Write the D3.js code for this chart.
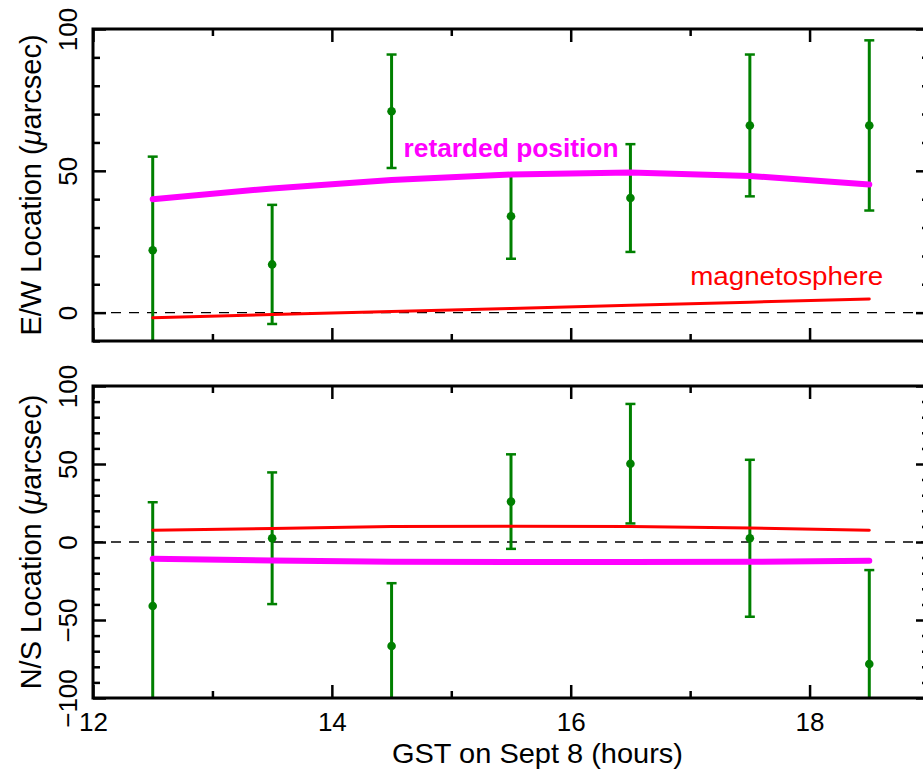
<!DOCTYPE html>
<html>
<head>
<meta charset="utf-8">
<script src="https://cdn.jsdelivr.net/npm/d3@7"></script>
<style>
  html, body { margin: 0; padding: 0; background: #fff; }
  svg { display: block; }
  text { font-family: "Liberation Sans", Arial, sans-serif; fill: #000; }
</style>
</head>
<body>
<svg id="chart" width="923" height="774"></svg>
<script>
// ---------- data ----------
const hours = [12.5, 13.5, 14.5, 15.5, 16.5, 17.5, 18.5];

// E/W (top panel)
const ewObs = [22, 17, 71, 34, 40.4, 66, 66];
const ewErr = [33, 21, 20, 15, 19, 25, 30];
const ewRetarded = [40.0, 43.8, 46.8, 48.7, 49.4, 48.2, 45.2];
const ewMagneto = [-1.8, -0.7, 0.4, 1.5, 2.6, 3.7, 4.8];

// N/S (bottom panel)
const nsObs = [-41, 2.4, -66.7, 25.9, 50.2, 2.4, -78.2];
const nsErr = [66.5, 42.2, 40.3, 30.3, 38.3, 50.3, 60.2];
const nsRetarded = [-10.8, -11.8, -12.6, -12.9, -12.9, -12.7, -12.0];
const nsMagneto = [7.5, 8.6, 9.9, 10.1, 10.0, 9.0, 7.6];

// axes
const xDomain = [12, 19];
const xMajor = [12, 14, 16, 18];
const xMinor = [13, 15, 17, 19];
const ewDomain = [-10, 100];
const ewMajor = [0, 50, 100];
const ewMinor = [-10, 10, 20, 30, 40, 60, 70, 80, 90];
const nsDomain = [-100, 100];
const nsMajor = [-100, -50, 0, 50, 100];
const nsMinor = [-90, -80, -70, -60, -40, -30, -20, -10, 10, 20, 30, 40, 60, 70, 80, 90];

const xTitle = "GST on Sept 8 (hours)";
const ewTitle = "E/W Location (";
const nsTitle = "N/S Location (";
const unitTail = "arcsec)";
const labelRetarded = "retarded position";
const labelRetardedPos = [14.6, 54.9];
const labelMagneto = "magnetosphere";
const labelMagnetoPos = [17.0, 9.8];

// ---------- drawing ----------
const svg = d3.select("#chart");
const left = 93, right = 929;
const x = d3.scaleLinear().domain(xDomain).range([left, right]);

const colGreen = "#008000", colMag = "#ff00ff", colRed = "#ff0000";
const fmt = d => d < 0 ? "\u2212" + Math.abs(d) : String(d);

function panel(id, top, bottom, domain, major, minor, obs, err, ret, mag, title, showX) {
  const y = d3.scaleLinear().domain(domain).range([bottom, top]);
  const g = svg.append("g");

  g.append("clipPath").attr("id", "clip" + id)
    .append("rect").attr("x", left).attr("y", top).attr("width", right - left).attr("height", bottom - top);

  // zero dashed line
  g.append("line")
    .attr("x1", left).attr("x2", right).attr("y1", y(0)).attr("y2", y(0))
    .attr("stroke", "#000").attr("stroke-width", 1.4).attr("stroke-dasharray", "10,8");

  const plot = g.append("g").attr("clip-path", `url(#clip${id})`);

  // error bars
  const eb = plot.selectAll("g.eb").data(hours.map((h, i) => ({ h, v: obs[i], e: err[i] })))
    .join("g").attr("class", "eb");
  eb.append("line")
    .attr("x1", d => x(d.h)).attr("x2", d => x(d.h))
    .attr("y1", d => y(d.v - d.e)).attr("y2", d => y(d.v + d.e))
    .attr("stroke", colGreen).attr("stroke-width", 3);
  eb.each(function(d) {
    const s = d3.select(this);
    [d.v - d.e, d.v + d.e].forEach(v => {
      s.append("line")
        .attr("x1", x(d.h) - 5).attr("x2", x(d.h) + 5)
        .attr("y1", y(v)).attr("y2", y(v))
        .attr("stroke", colGreen).attr("stroke-width", 2.5);
    });
  });
  eb.append("circle").attr("cx", d => x(d.h)).attr("cy", d => y(d.v)).attr("r", 4.3).attr("fill", colGreen);

  const line = d3.line().x((d, i) => x(hours[i])).y(d => y(d));
  plot.append("path").datum(mag).attr("d", line)
    .attr("fill", "none").attr("stroke", colRed).attr("stroke-width", 3).attr("stroke-linecap", "round");
  plot.append("path").datum(ret).attr("d", line)
    .attr("fill", "none").attr("stroke", colMag).attr("stroke-width", 6).attr("stroke-linecap", "round");

  // axes (ticks inward)
  const addAxis = (axisGen, transform, vals, size, labels) => {
    const a = g.append("g").attr("transform", transform)
      .call(axisGen.tickValues(vals).tickSize(-size).tickPadding(0).tickFormat(labels ? fmt : ""));
    a.select(".domain").remove();
    a.selectAll(".tick line").attr("stroke", "#000").attr("stroke-width", 2.5);
    return a;
  };
  addAxis(d3.axisBottom(x), `translate(0,${bottom})`, xMinor, 7, false);
  const xb = addAxis(d3.axisBottom(x), `translate(0,${bottom})`, xMajor, 13, showX);
  addAxis(d3.axisTop(x), `translate(0,${top})`, xMinor, 7, false);
  addAxis(d3.axisTop(x), `translate(0,${top})`, xMajor, 13, false);
  addAxis(d3.axisLeft(y), `translate(${left},0)`, minor, 7, false);
  const yl = addAxis(d3.axisLeft(y), `translate(${left},0)`, major, 13, true);
  addAxis(d3.axisRight(y), `translate(${right},0)`, minor, 7, false);
  addAxis(d3.axisRight(y), `translate(${right},0)`, major, 13, false);

  yl.selectAll(".tick text")
    .attr("x", null).attr("dy", null)
    .attr("transform", "translate(-16,0) rotate(-90)")
    .attr("text-anchor", "middle")
    .attr("fill", "#000")
    .style("font-size", "26px")
    .style("font-family", "'Liberation Sans', Arial, sans-serif");

  if (showX) {
    xb.selectAll(".tick text")
      .attr("y", 33).attr("dy", null)
      .attr("fill", "#000")
      .style("font-size", "26px")
      .style("font-family", "'Liberation Sans', Arial, sans-serif");
  }

  // frame
  g.append("rect").attr("x", left).attr("y", top).attr("width", right - left).attr("height", bottom - top)
    .attr("fill", "none").attr("stroke", "#000").attr("stroke-width", 3);

  // y title
  const t = g.append("text")
    .attr("transform", `translate(41,${(top + bottom) / 2}) rotate(-90)`)
    .attr("text-anchor", "middle")
    .style("font-size", "29px");
  t.append("tspan").text(title);
  t.append("tspan").style("font-style", "italic").text("\u03bc");
  t.append("tspan").text(unitTail);

  return y;
}

const yEW = panel("ew", 29, 341, ewDomain, ewMajor, ewMinor, ewObs, ewErr, ewRetarded, ewMagneto, ewTitle, false);
const yNS = panel("ns", 386, 698, nsDomain, nsMajor, nsMinor, nsObs, nsErr, nsRetarded, nsMagneto, nsTitle, true);

// annotations
svg.append("text")
  .attr("x", x(labelRetardedPos[0])).attr("y", yEW(labelRetardedPos[1]))
  .style("fill", colMag)
  .style("font-size", "26px").style("font-weight", "bold")
  .attr("textLength", 215).attr("lengthAdjust", "spacingAndGlyphs")
  .text(labelRetarded);

svg.append("text")
  .attr("x", x(labelMagnetoPos[0])).attr("y", yEW(labelMagnetoPos[1]))
  .style("fill", colRed)
  .style("font-size", "26px")
  .attr("textLength", 193).attr("lengthAdjust", "spacingAndGlyphs")
  .text(labelMagneto);

// x title
svg.append("text")
  .attr("x", (392 + 683) / 2).attr("y", 763)
  .attr("text-anchor", "middle")
  .style("font-size", "28px")
  .attr("textLength", 291).attr("lengthAdjust", "spacingAndGlyphs")
  .text(xTitle);
</script>
</body>
</html>
